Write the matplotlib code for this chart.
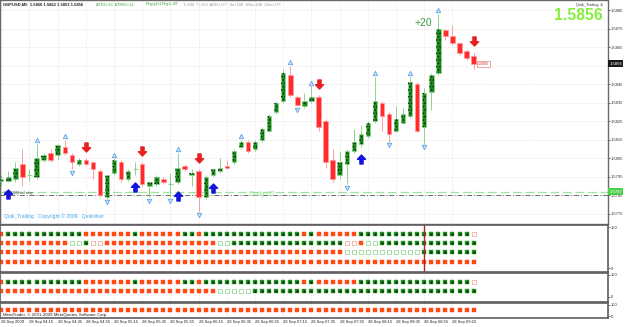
import numpy as np
import matplotlib.pyplot as plt
from matplotlib.path import Path

plt.rcParams['font.family'] = ['Liberation Sans', 'DejaVu Sans']
plt.rcParams['hatch.linewidth'] = 0.6

# Velas GBPUSD M5, 28 Sep 2009, desde las 03:55 hasta las 09:30
apertura = [1.5793, 1.5793, 1.5794, 1.5802, 1.5796, 1.5795, 1.5804, 1.5808, 1.5807, 1.5811,
            1.5807, 1.5802, 1.5804, 1.5803, 1.5798, 1.5784, 1.5797, 1.5803, 1.5794, 1.5799,
            1.5802, 1.5790, 1.5791, 1.5794, 1.5791, 1.5792, 1.5801, 1.5796, 1.5798, 1.5784,
            1.5796, 1.5798, 1.5801, 1.5803, 1.5811, 1.5814, 1.5810, 1.5815, 1.5820, 1.5830,
            1.5836, 1.5850, 1.5838, 1.5833, 1.5836, 1.5838, 1.5825, 1.5804, 1.5796, 1.5802,
            1.5809, 1.5813, 1.5817, 1.5825, 1.5835, 1.5829, 1.5820, 1.5824, 1.5828, 1.5845,
            1.5822, 1.5841, 1.5851, 1.5874, 1.5871, 1.5867, 1.5863, 1.5860]
maximo = [1.5796, 1.5798, 1.5803, 1.5810, 1.5799, 1.5813, 1.5808, 1.5810, 1.5813, 1.5815,
          1.5808, 1.5805, 1.5805, 1.5803, 1.5799, 1.5796, 1.5805, 1.5804, 1.5799, 1.5803,
          1.5803, 1.5793, 1.5796, 1.5795, 1.5797, 1.5808, 1.5802, 1.5799, 1.5799, 1.5796,
          1.5800, 1.5805, 1.5804, 1.5810, 1.5815, 1.5815, 1.5815, 1.5822, 1.5829, 1.5836,
          1.5853, 1.5855, 1.5839, 1.5840, 1.5844, 1.5839, 1.5826, 1.5810, 1.5809, 1.5810,
          1.5821, 1.5823, 1.5825, 1.5849, 1.5836, 1.5830, 1.5833, 1.5832, 1.5849, 1.5846,
          1.5843, 1.5851, 1.5883, 1.5875, 1.5877, 1.5868, 1.5864, 1.5862]
minimo = [1.5790, 1.5792, 1.5792, 1.5790, 1.5793, 1.5794, 1.5803, 1.5803, 1.5804, 1.5807,
          1.5799, 1.5801, 1.5801, 1.5794, 1.5784, 1.5783, 1.5796, 1.5792, 1.5793, 1.5796,
          1.5790, 1.5784, 1.5790, 1.5791, 1.5784, 1.5791, 1.5798, 1.5790, 1.5776, 1.5783,
          1.5795, 1.5797, 1.5799, 1.5802, 1.5810, 1.5808, 1.5809, 1.5814, 1.5819, 1.5829,
          1.5835, 1.5838, 1.5833, 1.5832, 1.5835, 1.5820, 1.5800, 1.5792, 1.5794, 1.5791,
          1.5808, 1.5811, 1.5816, 1.5824, 1.5820, 1.5814, 1.5819, 1.5824, 1.5827, 1.5819,
          1.5813, 1.5831, 1.5850, 1.5869, 1.5866, 1.5861, 1.5858, 1.5853]
cierre = [1.5794, 1.5795, 1.5800, 1.5795, 1.5796, 1.5805, 1.5807, 1.5804, 1.5812, 1.5808,
          1.5803, 1.5804, 1.5802, 1.5799, 1.5785, 1.5796, 1.5804, 1.5794, 1.5798, 1.5799,
          1.5791, 1.5792, 1.5795, 1.5792, 1.5791, 1.5800, 1.5799, 1.5797, 1.5784, 1.5795,
          1.5799, 1.5800, 1.5800, 1.5809, 1.5814, 1.5809, 1.5814, 1.5821, 1.5828, 1.5835,
          1.5851, 1.5839, 1.5834, 1.5836, 1.5838, 1.5822, 1.5803, 1.5794, 1.5803, 1.5809,
          1.5814, 1.5818, 1.5824, 1.5836, 1.5828, 1.5818, 1.5826, 1.5829, 1.5846, 1.5820,
          1.5840, 1.5850, 1.5875, 1.5871, 1.5867, 1.5862, 1.5859, 1.5856]

# Etiquetas del eje de tiempo (indice de la vela, 0 = 04:00)
marcasTiempo = [-1, 3, 7, 11, 15, 19, 23, 27, 31, 35, 39, 43, 47, 51, 55, 59, 63]
etiquetasTiempo = ['28 Sep 2009', '28 Sep 04:15', '28 Sep 04:35', '28 Sep 04:55', '28 Sep 05:15',
                   '28 Sep 05:35', '28 Sep 05:55', '28 Sep 06:15', '28 Sep 06:35', '28 Sep 06:55',
                   '28 Sep 07:15', '28 Sep 07:35', '28 Sep 07:55', '28 Sep 08:15', '28 Sep 08:35',
                   '28 Sep 08:55', '28 Sep 09:15']
preciosEje = [1.5775, 1.5785, 1.5795, 1.5805, 1.5815, 1.5825, 1.5835, 1.5845, 1.5855, 1.5865, 1.5875, 1.5885]

fractalesArriba = [4, 8, 15, 24, 33, 40, 43, 52, 57, 61]
fractalesAbajo = [9, 14, 20, 23, 27, 41, 48, 54, 59]
flechasVenta = [11, 19, 27, 44, 66]
flechasCompra = [0, 18, 24, 29, 50]

nivelDiario = 1.5787
nivelStop = 1.5785

# Filas de puntos de los indicadores (r rojo, g verde, R/G huecos)
filaA = [('r', 1), ('g', 11), ('r', 7), ('g', 1), ('r', 6), ('g', 2), ('r', 1), ('g', 14),
         ('r', 1), ('g', 1), ('r', 6), ('g', 16), ('R', 1)]
filaB = [('r', 10), ('G', 2), ('g', 1), ('R', 2), ('r', 16), ('G', 2), ('g', 16), ('R', 2),
         ('r', 1), ('G', 2), ('g', 14)]
filaC = [('r', 49), ('G', 11), ('g', 8)]
filaD = [('r', 68)]
filaE = filaA
filaF = [('r', 31), ('G', 5), ('g', 32)]
filaG = [('r', 68)]
lineaRoja = 59

##############################################

W, H = 625, 327
fig = plt.figure(figsize=(W/100, H/100), dpi=100)
fig.patch.set_facecolor('white')

def caja(arriba, abajo):
    return [0, (H-abajo)/H, 608/W, (abajo-arriba)/H]

def textoPx(x, y, s, **kw):
    fig.text(x/W, 1-y/H, s, **kw)

ax = fig.add_axes(caja(0, 224))
p1 = fig.add_axes(caja(225, 271.5), sharex=ax)
p2 = fig.add_axes(caja(273, 301.5), sharex=ax)
p3 = fig.add_axes(caja(303, 318), sharex=ax)

x = np.arange(-1, len(cierre)-1)
o = np.array(apertura); h = np.array(maximo); l = np.array(minimo); c = np.array(cierre)
sube = c > o
baja = c < o
doji = c == o

verdeClaro = '#8fd48f'
rosa = '#ff9c9c'

# Mechas
ax.vlines(x[sube | doji], l[sube | doji], h[sube | doji], color=verdeClaro, lw=0.7, zorder=2)
ax.vlines(x[baja], l[baja], h[baja], color=rosa, lw=0.7, zorder=2)
# Cuerpos
ax.bar(x[sube], (c-o)[sube], bottom=o[sube], width=0.62, color='#1e8a1e', edgecolor=verdeClaro, lw=0.5, zorder=3)
ax.bar(x[sube], (c-o)[sube], bottom=o[sube], width=0.62, facecolor='none', edgecolor='#062806', hatch='.....', lw=0, zorder=4)
ax.bar(x[baja], (o-c)[baja], bottom=c[baja], width=0.62, color='#ff2b2b', edgecolor=rosa, lw=0.5, zorder=3)
ax.hlines(o[doji], x[doji]-0.35, x[doji]+0.35, color=verdeClaro, lw=0.8, zorder=3)

# Fractales
fa = np.array(fractalesArriba); fb = np.array(fractalesAbajo)
ax.plot(fa, h[fa+1] + 0.00018, ls='none', marker='^', ms=3.2, mfc='#d4e8fb', mec='#5aa0e6', mew=0.6, zorder=5)
ax.plot(fb, l[fb+1] - 0.00018, ls='none', marker='v', ms=3.2, mfc='#d4e8fb', mec='#5aa0e6', mew=0.6, zorder=5)

# Flechas de señal
flechaArriba = Path([(0, 1), (0.9, 0.05), (0.35, 0.05), (0.35, -1), (-0.35, -1), (-0.35, 0.05), (-0.9, 0.05), (0, 1)], closed=True)
flechaAbajo = Path([(0, -1), (0.9, -0.05), (0.35, -0.05), (0.35, 1), (-0.35, 1), (-0.35, -0.05), (-0.9, -0.05), (0, -1)], closed=True)
fv = np.array(flechasVenta); fc_ = np.array(flechasCompra)
ax.plot(fv, h[fv+1] + 0.00062, ls='none', marker=flechaAbajo, ms=6.5, color='#e62020', zorder=5)
ax.plot(fc_, l[fc_+1] - 0.00062, ls='none', marker=flechaArriba, ms=6.5, color='#1414dc', zorder=5)

# Niveles
ax.axhline(nivelDiario, color='#9be49b', ls=(0, (7, 3)), lw=0.9, zorder=1)
ax.axhline(nivelStop, color='#6a6a6a', ls=(0, (5, 2, 1, 2)), lw=0.7, zorder=1)
ax.text(35.9, nivelDiario - 0.00016, 'Daily 62', fontsize=5, color='#9be49b', va='center', ha='center')
ax.text(-0.6, nivelStop + 0.00013, 'PTA(220) tail stop', fontsize=2.6, color='#444444', va='center')

ax.text(58.9, 1.5878, '+20', fontsize=7.5, color='#3d9a3d', ha='center', va='center')
ax.text(66.65, c[-1], '%.4f' % c[-1], fontsize=2.6, color='#c03030', va='center',
        bbox=dict(boxstyle='square,pad=0.25', fc='white', ec='#e48080', lw=0.5))

# Etiquetas del eje de precios (la del precio actual tapa a la 1.5855)
ax.text(1.002, c[-1], '%.4f' % c[-1], transform=ax.get_yaxis_transform(), fontsize=3.1, color='white',
        va='center', ha='left', clip_on=False, zorder=10,
        bbox=dict(boxstyle='square,pad=0.3', fc='#1a1a1a', ec='none'))
ax.text(1.002, nivelDiario, '%.4f' % nivelDiario, transform=ax.get_yaxis_transform(), fontsize=3.1, color='white',
        va='center', ha='left', clip_on=False, zorder=10,
        bbox=dict(boxstyle='square,pad=0.3', fc='#4ccf4c', ec='none'))

ax.set_xlim(-1.18, 85.06)
ax.set_ylim(1.57696, 1.58904)
ax.yaxis.tick_right()
ax.set_yticks(preciosEje)
ax.set_yticklabels(['' if abs(p - c[-1]) < 0.0002 else '%.4f' % p for p in preciosEje])
ax.tick_params(axis='y', labelsize=3.0, length=1.5, pad=0.8, colors='#333333', width=0.5)
ax.set_xticks(marcasTiempo)
ax.tick_params(axis='x', length=0, labelbottom=False)
ax.grid(True, color='#d2d2d2', ls=(0, (1, 2)), lw=0.5)
ax.set_axisbelow(True)
for s in ax.spines.values():
    s.set_color('#6a6a6a'); s.set_linewidth(1.0)

# Paneles de indicadores
estilos = {
    'g': dict(marker='s', ms=3, mfc='#1f8f1f', mec='#1f8f1f', mew=0.3),
    'r': dict(marker='s', ms=3, mfc='#ff4a14', mec='#ff4a14', mew=0.3),
    'G': dict(marker='s', ms=2.6, mfc='white', mec='#86d286', mew=0.5),
    'R': dict(marker='s', ms=2.6, mfc='white', mec='#f7a08a', mew=0.5),
}

def expandir(tramos):
    return np.array([codigo for codigo, n in tramos for _ in range(n)])

def pintarFila(axp, tramos, nivel):
    cod = expandir(tramos)
    for k, estilo in estilos.items():
        m = cod == k
        axp.plot(x[m], np.full(m.sum(), nivel), ls='none', **estilo)
    m = cod == 'g'
    axp.plot(x[m], np.full(m.sum(), nivel), ls='none', marker='s', ms=0.7, color='#063006')

pintarFila(p1, filaA, 83)
pintarFila(p1, filaB, 60)
pintarFila(p1, filaC, 38)
pintarFila(p1, filaD, 15)
p1.axvline(lineaRoja, color='#b52222', lw=1.0)
p1.set_ylim(-8.5, 104.9)

pintarFila(p2, filaE, 68)
pintarFila(p2, filaF, 27)
p2.set_ylim(-20.5, 109)

pintarFila(p3, filaG, 55)
p3.set_ylim(-18, 118)

for axp in (p1, p2, p3):
    axp.yaxis.tick_right()
    axp.set_yticks([0, 100])
    axp.set_yticklabels(['0', '100'])
    axp.tick_params(axis='y', labelsize=3.0, length=1.5, pad=0.8, colors='#333333', width=0.5)
    axp.tick_params(axis='x', length=0, labelbottom=False)
    axp.grid(True, axis='x', color='#d2d2d2', ls=(0, (1, 2)), lw=0.5)
    axp.set_axisbelow(True)
    for s in axp.spines.values():
        s.set_color('#5e5e5e'); s.set_linewidth(1.2)

p3.set_xticks(marcasTiempo)
p3.set_xticklabels(etiquetasTiempo)
p3.tick_params(axis='x', labelbottom=True, labelsize=3.0, pad=1.2, colors='#222222')
for t in p3.get_xticklabels():
    t.set_ha('left')

# Textos de la ventana
textoPx(3, 4.5, 'GBPUSD,M5  1.5860 1.5862 1.5853 1.5856', fontsize=3.0, color='#222222', va='center', weight='bold')
textoPx(96, 4.5, 'ATR5=13  ATR60=13', fontsize=2.9, color='#3aa83a', va='center')
textoPx(146, 4.5, 'Rng(p)31', fontsize=2.9, color='#3aa83a', va='center')
textoPx(162, 4.5, 'Rng2=49', fontsize=2.9, color='#3aa83a', va='center')
textoPx(183, 4.5, 'T=100  T=100  ADR=177  Sa=108  SSa=108  ZSa=175', fontsize=2.9, color='#9a9a9a', va='center')
textoPx(576, 5, 'Quik_Trailing ☺', fontsize=2.8, color='#333333', va='center')
textoPx(603, 16, '1.5856', fontsize=11.3, color='#86ee3c', weight='bold', va='center', ha='right')
textoPx(4, 216.5, 'Quik_Trailing   Copyright © 2009   Quiksilver', fontsize=3.6, color='#3fa6ee', va='center')
textoPx(3, 315, 'MetaTrader, © 2001-2009 MetaQuotes Software Corp.', fontsize=3.2, color='#222222', va='center')

fig.savefig('out.png', dpi=100, facecolor='white')
